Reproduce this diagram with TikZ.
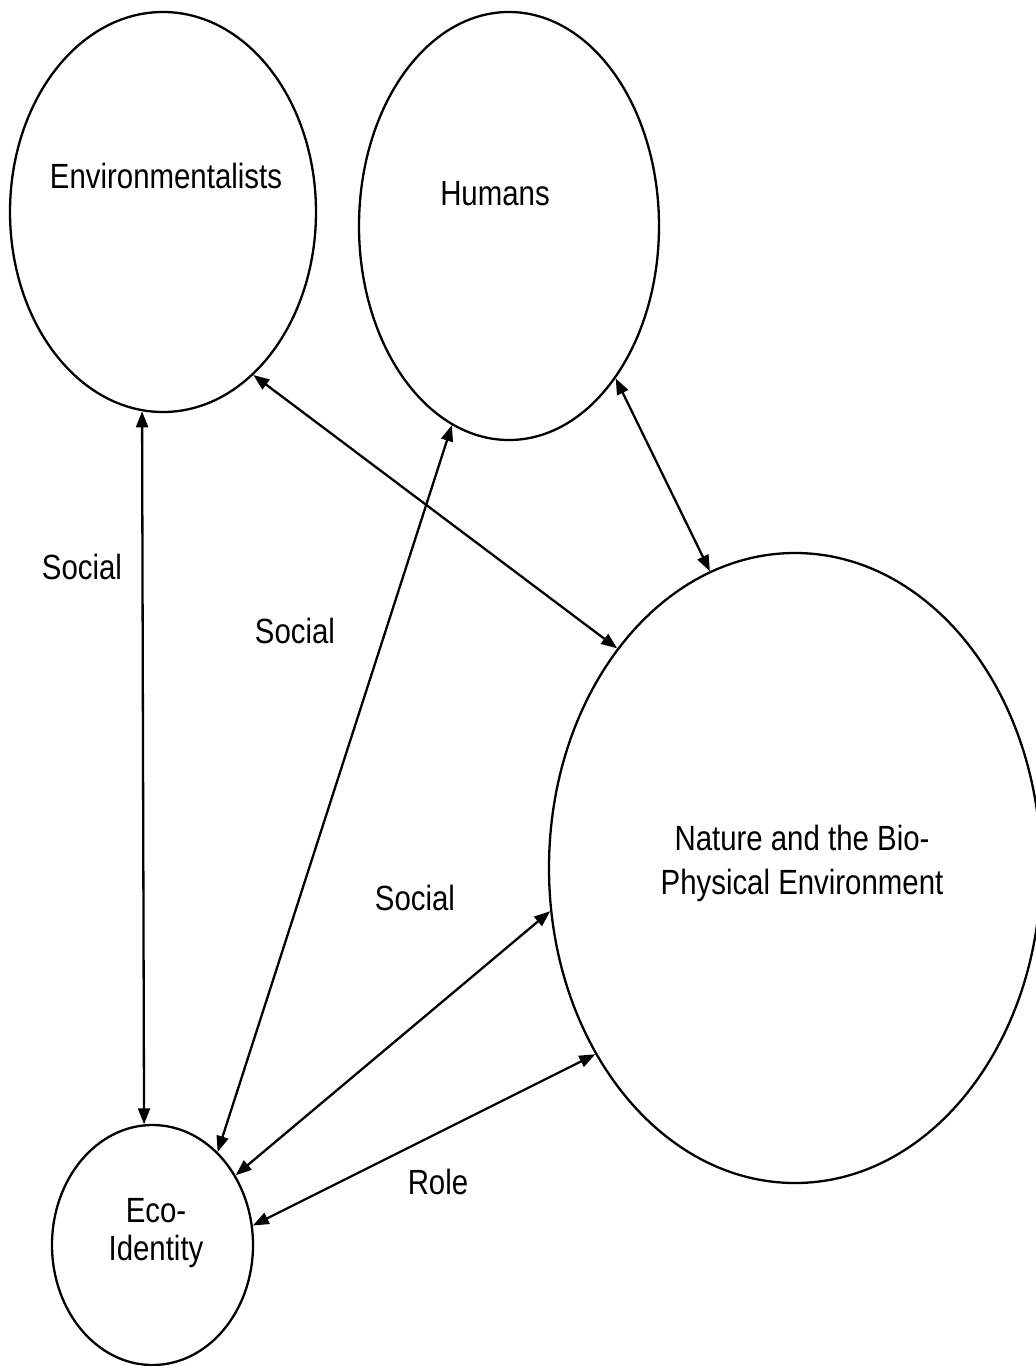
\documentclass[tikz,border=0pt]{standalone}
\usepackage{fontspec}
\setmainfont{Liberation Sans}[FakeStretch=0.84]
\usetikzlibrary{shapes.geometric,arrows.meta}
\begin{document}
\begin{tikzpicture}[x=1pt,y=-1pt,
  circ/.style={draw,ellipse,line width=2.3pt,inner sep=0pt},
  lbl/.style={inner sep=0pt,font=\fontsize{35}{44}\selectfont},
  link/.style={line width=2.3pt,{Triangle[length=16pt,width=12pt]}-{Triangle[length=16pt,width=12pt]}}]
\useasboundingbox (0,0) rectangle (1036,1366);
% entities
\node[circ,minimum width=306pt,minimum height=400pt] (env) at (163,212) {};
\node[circ,minimum width=300pt,minimum height=428pt] (hum) at (509,226) {};
\node[circ,minimum width=492pt,minimum height=630pt] (nat) at (795,868) {};
\node[circ,minimum width=201pt,minimum height=240pt] (eco) at (152.5,1245) {};
% entity names
\node[lbl,anchor=base] (tenv) at (166,188) {Environmentalists};
\node[lbl,anchor=base] (thum) at (495,205) {Humans};
\node[lbl,anchor=north,align=center] (tnat) at (802,825) {Nature and the Bio-\\Physical Environment};
\node[lbl,anchor=north,align=center,font=\fontsize{35}{38}\selectfont] (teco) at (156,1198) {Eco-\\Identity};
% relations
\draw[link] (env.264.5) -- (eco.94);
\draw[link] (env.-61.8) -- (nat.129.9);
\draw[link] (hum.254.8) -- (eco.55.8);
\draw[link] (hum.-55.7) -- (nat.106.6);
\draw[link] (eco.40.3) -- (nat.190.9);
\draw[link] (eco.11) -- (nat.223.4);
% relation labels
\node[lbl,anchor=base] (s1) at (82,579) {Social};
\node[lbl,anchor=base] (s2) at (295,643) {Social};
\node[lbl,anchor=base] (s3) at (415,910) {Social};
\node[lbl,anchor=base] (r1) at (438,1194) {Role};
\end{tikzpicture}
\end{document}
